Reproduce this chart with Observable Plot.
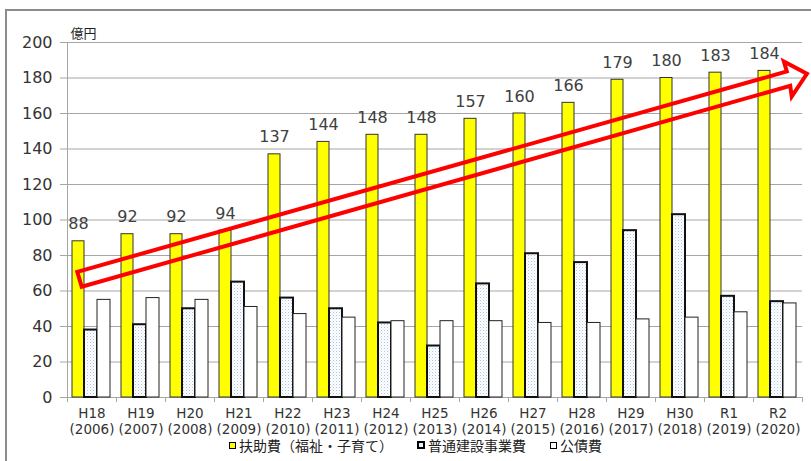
<!DOCTYPE html>
<html><head><meta charset="utf-8">
<script src="https://cdn.jsdelivr.net/npm/d3@7"></script>
<script src="https://cdn.jsdelivr.net/npm/@observablehq/plot@0.6"></script>
<style>
body{margin:0;background:#fff;}
#wrap{position:relative;width:811px;height:461px;overflow:hidden;background:#fff;}
#frameTop{position:absolute;left:5px;top:9px;width:806px;height:0;border-top:2px solid #8c8c8c;}
#frameLeft{position:absolute;left:5px;top:9px;width:0;height:452px;border-left:2px solid #8c8c8c;}
#chart{position:absolute;left:0;top:0;}
.leg{position:absolute;top:437px;height:16px;font-family:"Noto Sans CJK JP";font-size:14px;color:#222;display:flex;align-items:center;white-space:nowrap;line-height:16px;}
.sw{width:5px;height:5px;margin-right:3px;box-sizing:content-box;}
</style></head><body>
<div id="wrap">
<div id="frameTop"></div><div id="frameLeft"></div>
<div id="chart"></div>
<div class="leg" style="left:229px"><span class="sw" style="background:#ffff00;border:1px solid #000"></span>扶助費（福祉・子育て）</div>
<div class="leg" style="left:417px"><span class="sw" style="background:#e6eef7;border:2px solid #000;width:4px;height:4px"></span>普通建設事業費</div>
<div class="leg" style="left:550px"><span class="sw" style="background:#fff;border:1px solid #000"></span>公債費</div>
</div>
<script>
const categories = ["H18","H19","H20","H21","H22","H23","H24","H25","H26","H27","H28","H29","H30","R1","R2"];
const yearLabels = ["(2006)","(2007)","(2008)","(2009)","(2010)","(2011)","(2012)","(2013)","(2014)","(2015)","(2016)","(2017)","(2018)","(2019)","(2020)"];
const fujohi = [88,92,92,94,137,144,148,148,157,160,166,179,180,183,184];
const futsuKensetsu = [38,41,50,65,56,50,42,29,64,81,76,94,103,57,54];
const kosaihi = [55,56,55,51,47,45,43,43,43,42,42,44,45,48,53];
const yTicks = [0,20,40,60,80,100,120,140,160,180,200];
const yUnit = "億円";
// annotation arrow outline in data units: [category index offset, value]
const arrowShape = [[0.21,70.5],[14.69,183.4],[14.63,189],[15.1,182.1],[14.79,169.3],[14.76,175.3],[0.3,62.1]];

const rows = categories.map((c,i)=>({cat:c, label:c+"\n"+yearLabels[i], a:fujohi[i], b:futsuKensetsu[i], c2:kosaihi[i]}));

const W=811, H=437, mL=67, mR=9, mT=42, mB=40;
const step = (W-mL-mR)/categories.length;
const num = "DejaVu Sans";

const chart = Plot.plot({
  width:W, height:H, marginLeft:mL, marginRight:mR, marginTop:mT, marginBottom:mB,
  style:{background:"transparent", overflow:"visible"},
  x:{domain:categories, padding:0, axis:null},
  y:{domain:[0,200], axis:null},
  marks:[
    Plot.gridY(yTicks, {stroke:"#a6a6a6", strokeOpacity:1}),
    Plot.axisY(yTicks, {tickSize:7, tickPadding:8, fontSize:16, fontFamily:num, fill:"#333", stroke:"#a6a6a6", label:null}),
    Plot.axisX(categories, {tickSize:5, tickFormat:()=>"", dx:-step/2, stroke:"#a6a6a6", label:null}),
    Plot.axisX([categories[categories.length-1]], {tickSize:5, tickFormat:()=>"", dx:step/2, stroke:"#a6a6a6", label:null}),
    Plot.ruleX([categories[0]], {dx:-step/2, stroke:"#a6a6a6"}),
    Plot.ruleY([0], {stroke:"#a6a6a6"}),
    Plot.barY(rows, {x:"cat", y:"a", fill:"#ffff00", stroke:"#333", strokeWidth:1, insetLeft:5, insetRight:step-17}),
    Plot.barY(rows, {x:"cat", y:"b", fill:"url(#dots)", stroke:"#111", strokeWidth:2, insetLeft:17, insetRight:step-30}),
    Plot.barY(rows, {x:"cat", y:"c2", fill:"#fff", stroke:"#222", strokeWidth:1, insetLeft:30, insetRight:step-43}),
    Plot.text(rows, {x:"cat", y:"a", text:d=>String(d.a), dx:11-step/2, dy:-17, fontSize:16, fontFamily:num, fill:"#404040"}),
    Plot.text(rows, {x:"cat", text:"label", frameAnchor:"bottom", lineAnchor:"top", dy:9.5, lineHeight:1.15, fontSize:13.5, fontFamily:num, fill:"#333"}),
    Plot.text([yUnit], {frameAnchor:"top-left", textAnchor:"start", dx:3, dy:-14, fontSize:13, fontFamily:"Noto Sans CJK JP", fill:"#222"})
  ]
});
document.getElementById("chart").appendChild(chart);

d3.select(chart).insert("defs", ":first-child").html(
  '<pattern id="dots" width="3" height="3" patternUnits="userSpaceOnUse"><rect width="3" height="3" fill="#fff"/><rect x="0" y="0" width="1" height="1" fill="#a9c4e6"/><rect x="1.5" y="1.5" width="1" height="1" fill="#d2e0f1"/></pattern>'
);

const xs = chart.scale("x"), ys = chart.scale("y");
const st = xs.step ?? xs.bandwidth ?? step;
const x0 = xs.apply(categories[0]);
const pts = arrowShape.map(([i,v]) => [x0 + i*st, ys.apply(v)]);
d3.select(chart).append("polygon")
  .attr("points", pts.map(p=>p.join(",")).join(" "))
  .attr("fill","none").attr("stroke","#ff0000").attr("stroke-width",4).attr("stroke-linejoin","miter");
</script>
</body></html>
